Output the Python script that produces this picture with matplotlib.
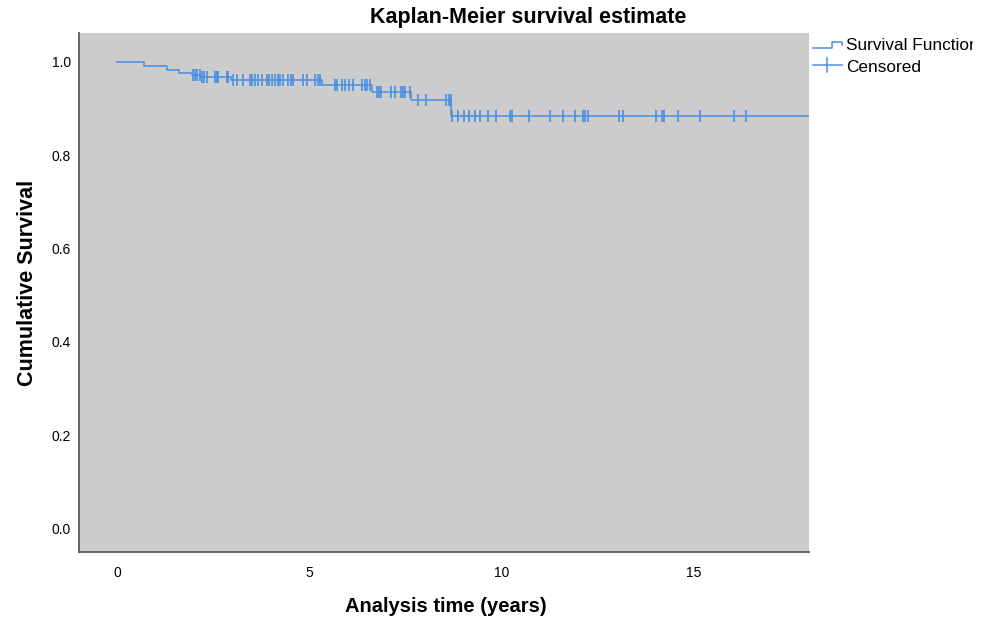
import numpy as np
import matplotlib
matplotlib.use("Agg")
import matplotlib.pyplot as plt
from matplotlib.lines import Line2D
from matplotlib.transforms import Bbox

plt.rcParams['font.family'] = ['Liberation Sans', 'DejaVu Sans']

# Kaplan-Meier step curve (event times in years, survival after each step)
step_times = [0.0, 0.70, 1.30, 1.61, 1.95, 2.15, 2.95, 5.32, 6.62, 7.64, 8.68, 18.5]
step_surv = [1.000, 0.991, 0.983, 0.977, 0.972, 0.967, 0.961, 0.950, 0.935, 0.918, 0.885, 0.885]

# censored observations (years)
censor_times = [1.98, 2.03, 2.07, 2.14, 2.20, 2.26, 2.33, 2.55, 2.59, 2.63, 2.85, 2.89,
                3.02, 3.11, 3.28, 3.45, 3.51, 3.58, 3.67, 3.76, 3.89, 3.95, 4.02, 4.10,
                4.19, 4.23, 4.32, 4.45, 4.51, 4.58, 4.84, 4.93, 5.14, 5.23, 5.27,
                5.66, 5.71, 5.84, 5.92, 6.03, 6.14, 6.36, 6.44, 6.49, 6.57,
                6.75, 6.81, 6.86, 7.11, 7.22, 7.39, 7.44, 7.48, 7.61,
                7.83, 8.04, 8.56, 8.62, 8.67,
                8.70, 8.86, 9.01, 9.15, 9.30, 9.45, 9.64, 9.86, 10.21, 10.28, 10.71,
                11.26, 11.61, 11.92, 12.11, 12.17, 12.24, 13.05, 13.17, 14.02, 14.17,
                14.23, 14.60, 15.16, 16.05, 16.36]

x_ticks = [0, 5, 10, 15]
y_ticks = [0.0, 0.2, 0.4, 0.6, 0.8, 1.0]

blue = '#4a8ee0'

fig = plt.figure(figsize=(9.87, 6.2), dpi=100)
ax = fig.add_axes([79 / 987, 68 / 620, 730 / 987, 519 / 620])
ax.set_facecolor('#cccccc')

ax.step(step_times, step_surv, where='post', color=blue, lw=1.1)
# survival at each censor time
idx = np.searchsorted(step_times, censor_times, side='right') - 1
censor_surv = np.array(step_surv)[idx]
ax.plot(censor_times, censor_surv, ls='none', marker='|', ms=8, mew=1.2, color=blue)

ax.set_xlim(-1, 18)
ax.set_ylim(-0.05, 1.062)
ax.set_xticks(x_ticks)
ax.set_yticks(y_ticks)
ax.set_yticklabels([f'{v:.1f}' for v in y_ticks])
ax.tick_params(length=0, labelsize=10)
ax.tick_params(axis='x', pad=10)
ax.tick_params(axis='y', pad=6)

for s in ['top', 'right']:
    ax.spines[s].set_visible(False)
for s in ['left', 'bottom']:
    ax.spines[s].set_color('#5a5a5a')
    ax.spines[s].set_linewidth(1.3)


def fx(px):
    return px / 987


def fy(py):
    return 1 - py / 620


# title and axis labels placed like the original
fig.text(fx(528), fy(18), 'Kaplan-Meier survival estimate', fontsize=15.5,
         fontweight='bold', ha='center', va='center')
fig.text(fx(446), fy(606), 'Analysis time (years)', fontsize=14.5,
         fontweight='bold', ha='center', va='center')
fig.text(fx(28), fy(283), 'Cumulative Survival', fontsize=15.5,
         fontweight='bold', ha='center', va='center', rotation=90)

# legend drawn by hand, outside right
fig.add_artist(Line2D([fx(813), fx(832), fx(832), fx(842), fx(842)],
                      [fy(48), fy(48), fy(42), fy(42), fy(45)],
                      color=blue, lw=1.1))
fig.add_artist(Line2D([fx(813), fx(842)], [fy(65), fy(65)], color=blue, lw=1.1))
fig.add_artist(Line2D([fx(827), fx(827)], [fy(58), fy(72)], color=blue, lw=1.1))

t1 = fig.text(fx(846), fy(46), 'Survival Function', fontsize=12.4, va='center', ha='left')
t1.set_clip_box(Bbox.from_extents(0, 0, 973, 620))
t1.set_clip_on(True)
fig.text(fx(846), fy(67), 'Censored', fontsize=12.4, va='center', ha='left')

fig.savefig('out.png', dpi=100)
